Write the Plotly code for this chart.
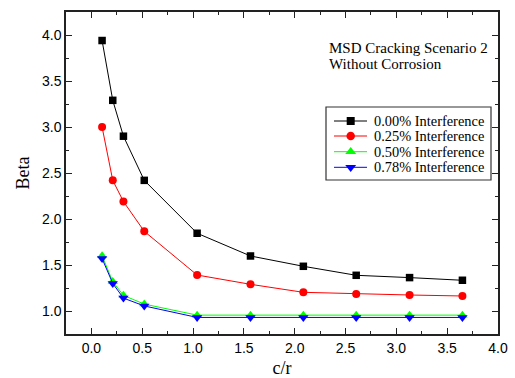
import plotly.graph_objects as go

cr = [0.105, 0.21, 0.315, 0.52, 1.04, 1.565, 2.085, 2.605, 3.13, 3.65]
beta_000 = [3.94, 3.29, 2.90, 2.42, 1.845, 1.598, 1.486, 1.388, 1.363, 1.334]
beta_025 = [3.00, 2.42, 2.19, 1.866, 1.391, 1.29, 1.203, 1.185, 1.174, 1.163]
beta_050 = [1.60, 1.32, 1.17, 1.075, 0.955, 0.955, 0.955, 0.955, 0.955, 0.955]
beta_078 = [1.57, 1.30, 1.14, 1.055, 0.93, 0.93, 0.93, 0.93, 0.93, 0.93]
names = ["0.00% Interference", "0.25% Interference", "0.50% Interference", "0.78% Interference"]
colors = ["#000000", "#ff0000", "#00ff00", "#0000ff"]
symbols = ["square", "circle", "triangle-up", "triangle-down"]
sizes = [7.5, 8, 9, 9]
x_ticks = [0, 0.5, 1, 1.5, 2, 2.5, 3, 3.5, 4]
x_ticktext = ["0.0", "0.5", "1.0", "1.5", "2.0", "2.5", "3.0", "3.5", "4.0"]
y_ticks = [1, 1.5, 2, 2.5, 3, 3.5, 4]
y_ticktext = ["1.0", "1.5", "2.0", "2.5", "3.0", "3.5", "4.0"]

SERIF = "Liberation Serif, Times New Roman, serif"
SANS = "Liberation Sans, Arial, sans-serif"

fig = go.Figure()
for ys, nm, c, s, sz in zip([beta_000, beta_025, beta_050, beta_078], names, colors, symbols, sizes):
    fig.add_trace(go.Scatter(x=cr, y=ys, name=nm, mode="lines+markers", showlegend=False,
                             line=dict(color=c, width=1),
                             marker=dict(symbol=s, size=sz, color=c)))

# legend drawn on an overlay axis measured in pixels of the page (layout only)
leg_box = dict(x0=326, x1=491, y0=107, y1=180)
leg_rows = [121, 136, 151.7, 167.3]
leg_line = (334, 367)
leg_marker_x = 350.7
leg_text_x = 372
for nm, c, s, sz, yy in zip(names, colors, symbols, sizes, leg_rows):
    fig.add_shape(type="line", xref="x2", yref="y2", x0=leg_line[0], x1=leg_line[1], y0=yy, y1=yy,
                  line=dict(color=c, width=1))
    fig.add_trace(go.Scatter(x=[leg_marker_x], y=[yy], xaxis="x2", yaxis="y2", mode="markers",
                             showlegend=False, hoverinfo="skip",
                             marker=dict(symbol=s, size=sz + 0.5, color=c)))
    fig.add_annotation(text=nm, xref="x2", yref="y2", x=leg_text_x, y=yy, xanchor="left", yanchor="middle",
                       showarrow=False, font=dict(family=SERIF, size=14.4, color="#000"))
fig.add_shape(type="rect", xref="x2", yref="y2", line=dict(color="#333333", width=1.2), **leg_box)

def axis_style(minor_vals):
    return dict(showline=True, linecolor="#222222", linewidth=1.5, mirror="ticks",
                ticks="inside", ticklen=6, tickwidth=1, tickcolor="#222222",
                showgrid=False, zeroline=False, automargin=False,
                tickfont=dict(family=SANS, size=14, color="#000"),
                minor=dict(ticks="inside", ticklen=3, tickcolor="#222222", tickwidth=1,
                           tickvals=minor_vals, showgrid=False))

fig.update_layout(
    xaxis=dict(range=[-0.25, 4.0], tickvals=x_ticks, ticktext=x_ticktext,
               title=dict(text="c/r", font=dict(family=SERIF, size=18, color="#000"), standoff=8),
               **axis_style([-0.25, 0.25, 0.75, 1.25, 1.75, 2.25, 2.75, 3.25, 3.75])),
    yaxis=dict(range=[0.75, 4.25], tickvals=y_ticks, ticktext=y_ticktext,
               title=dict(text="Beta", font=dict(family=SERIF, size=18, color="#000"), standoff=8),
               **axis_style([1.25, 1.75, 2.25, 2.75, 3.25, 3.75, 4.25])),
    xaxis2=dict(overlaying="x", anchor="y2", range=[66, 498], visible=False, fixedrange=True),
    yaxis2=dict(overlaying="y", anchor="x2", range=[334, 12], visible=False, fixedrange=True),
)

fig.add_annotation(text="MSD Cracking Scenario 2", xref="x2", yref="y2",
                   x=326.5, y=48, xanchor="left", yanchor="middle", showarrow=False,
                   font=dict(family=SERIF, size=15, color="#000"))
fig.add_annotation(text="Without Corrosion", xref="x2", yref="y2",
                   x=326.5, y=63.5, xanchor="left", yanchor="middle", showarrow=False,
                   font=dict(family=SERIF, size=15, color="#000"))

fig.update_layout(width=515, height=378, margin=dict(l=66, r=17, t=12, b=44, autoexpand=False),
                  plot_bgcolor="white", paper_bgcolor="white", showlegend=False)

fig.write_html("out.html", config={"displayModeBar": False},
               post_script="document.body.style.margin='0';document.body.style.overflow='hidden';")
